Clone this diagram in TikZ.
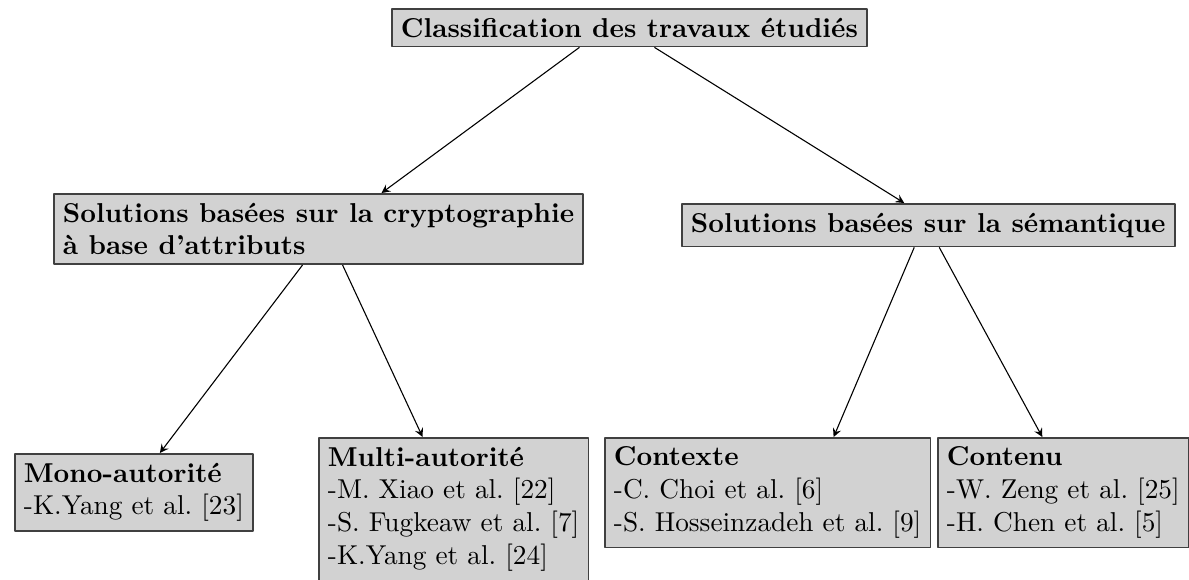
\documentclass[tikz,border=0pt]{standalone}
\usetikzlibrary{calc}
\tikzset{
  boite/.style={draw=black!75, fill=gray!35, line width=0.6pt, align=left, anchor=north west,
    execute at begin node=\frenchspacing},
  fleche/.style={->, thin}
}
\begin{document}
\begin{tikzpicture}[x=0.3663pt, y=-0.3663pt, line join=round, >=stealth]
	\useasboundingbox (0,0) rectangle (1189,579);
	\node[boite] (titre) at (391,8) {\textbf{Classification des travaux étudiés}};
	\node[boite] (abe) at (53,193) {\textbf{Solutions basées sur la cryptographie}\\\textbf{à base d'attributs}};
	\node[boite] (sem) at (681,203) {\textbf{Solutions basées sur la sémantique}};
	\node[boite] (mono) at (14,453) {\textbf{Mono-autorité}\\-K.Yang et al. [23]};
	\node[boite, minimum width=94pt] (multi) at (318,437) {\textbf{Multi-autorité}\\-M. Xiao et al. [22]\\-S. Fugkeaw et al. [7]\\-K.Yang et al. [24]};
	\node[boite] (ctx) at (604,437) {\textbf{Contexte}\\-C. Choi et al. [6]\\-S. Hosseinzadeh et al. [9]};
	\node[boite] (cnt) at (937,437) {\textbf{Contenu}\\-W. Zeng et al. [25]\\-H. Chen et al. [5]};
	\draw[fleche] ($(titre.south)+(-50,0)$) -- ($(abe.north)+(63,0)$);
	\draw[fleche] ($(titre.south)+(25,0)$) -- ($(sem.north)+(-24,0)$);
	\draw[fleche] ($(abe.south)+(-16,0)$) -- ($(mono.north)+(26,0)$);
	\draw[fleche] ($(abe.south)+(24,0)$) -- ($(multi.north)+(-31,0)$);
	\draw[fleche] ($(sem.south)+(-14,0)$) -- ($(ctx.north)+(66,0)$);
	\draw[fleche] ($(sem.south)+(11,0)$) -- ($(cnt.north)+(-21,0)$);
\end{tikzpicture}
\end{document}
